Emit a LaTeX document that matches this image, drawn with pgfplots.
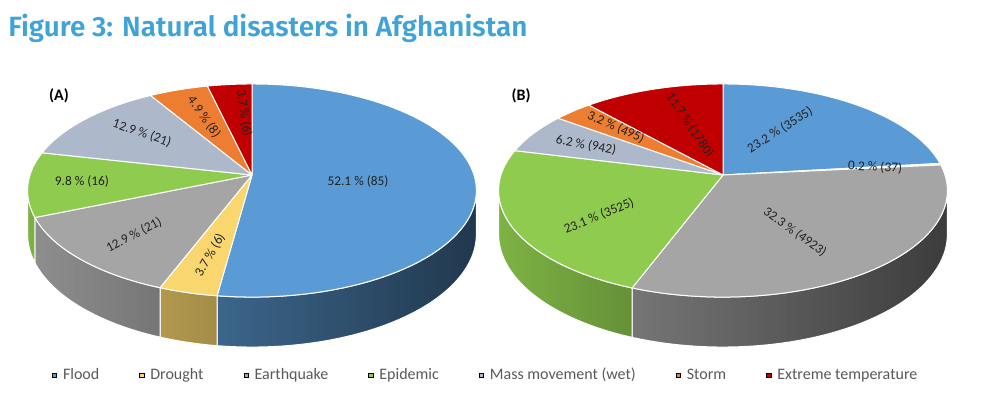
\documentclass[border=0pt]{standalone}
\usepackage{pgfplots}
\pgfplotsset{compat=1.18}
\usepackage{fontspec}
\setmainfont{Carlito}
\newfontfamily\titlefont{Fira Sans SemiBold}
\definecolor{floodc}{HTML}{5B9BD5}
\definecolor{droughtc}{HTML}{FAD66E}
\definecolor{quakec}{HTML}{A5A5A5}
\definecolor{epic}{HTML}{8FCB4E}
\definecolor{massc}{HTML}{ADB9CA}
\definecolor{stormc}{HTML}{ED7D31}
\definecolor{extc}{HTML}{C00000}
\definecolor{titlec}{HTML}{3FA3D8}
\definecolor{legc}{HTML}{595959}
\definecolor{labc}{HTML}{222222}
% pie geometry (pixels): perspective factor, radii, depth
\def\kk{0.1456}
\def\RX{222}
\def\RY{104.3}
\def\HH{42.7}
% data: value/colour, Excel order (clockwise from 12 o'clock)
\def\pieA{85/floodc, 6/droughtc, 21/quakec, 16/epic, 21/massc, 8/stormc, 6/extc}
\def\pieB{3535/floodc, 37/droughtc, 4923/quakec, 3525/epic, 942/massc, 495/stormc, 1780/extc}
\newcommand\pietotal[1]{%
  \xdef\tot{0}%
  \foreach \v/\c in #1 {\pgfmathparse{\tot+\v}\xdef\tot{\pgfmathresult}}}
\newcommand\drawsides[3]{%
  \pietotal{#3}%
  \xdef\cum{0}%
  \foreach \v/\c in #3 {%
    \pgfmathsetmacro\a{90-360*(\cum/\tot)}%
    \pgfmathparse{\cum+\v}\xdef\cum{\pgfmathresult}%
    \pgfmathsetmacro\b{90-360*(\cum/\tot)}%
    \pgfmathsetmacro\lo{max(\b,-171.63)}%
    \pgfmathsetmacro\hi{min(\a,-8.37)}%
    \pgfmathtruncatemacro\vis{\lo<\hi}%
    \ifnum\vis=1
      \pgfmathsetmacro\fl{100*(0.62-0.26*cos(\lo))}%
      \pgfmathsetmacro\fr{100*(0.62-0.26*cos(\hi))}%
      \colorlet{sideL}{\c!\fl!black}%
      \colorlet{sideR}{\c!\fr!black}%
      \path[left color=sideL, right color=sideR, draw=white, line width=0.75pt]
        plot[domain=\lo:\hi, samples=50, variable=\q]
          ({#1+\RX*cos(\q)/(1+\kk*sin(\q))},{#2-\RY*sin(\q)/(1+\kk*sin(\q))})
        -- plot[domain=\hi:\lo, samples=50, variable=\q]
          ({#1+\RX*cos(\q)/(1+\kk*sin(\q))},{#2-\RY*sin(\q)/(1+\kk*sin(\q))+\HH/(1+\kk*sin(\q))})
        -- cycle;
    \fi
  }}
\newcommand\drawtops[3]{%
  \pietotal{#3}%
  \xdef\cum{0}%
  \foreach \v/\c in #3 {%
    \pgfmathsetmacro\a{90-360*(\cum/\tot)}%
    \pgfmathparse{\cum+\v}\xdef\cum{\pgfmathresult}%
    \pgfmathsetmacro\b{90-360*(\cum/\tot)}%
    \filldraw[fill=\c, draw=white, line width=0.75pt, line join=round]
      (#1,#2) -- plot[domain=\b:\a, samples=80, variable=\q]
        ({#1+\RX*cos(\q)/(1+\kk*sin(\q))},{#2-\RY*sin(\q)/(1+\kk*sin(\q))})
      -- cycle;
  }}
\begin{document}
\begin{tikzpicture}
\begin{axis}[
  scale only axis, width=735.75pt, height=303.75pt,
  xmin=0, xmax=981, ymin=0, ymax=405, y dir=reverse,
  hide axis, clip=false,
  legend image code/.code={\fill[#1] (0pt,-1.7pt) rectangle (3.4pt,1.7pt);},
  legend style={draw=none, fill=none, at={(0.494,0.074)}, anchor=center,
    legend columns=-1, text=legc, font=\fontsize{12}{14}\selectfont,
    nodes={inner sep=0pt},
    /tikz/every odd column/.append style={column sep=4.5pt},
    /tikz/every even column/.append style={column sep=30pt}},
]
\pgfplotsextra{%
  \path (0,0) rectangle (981,405);
  \drawsides{252}{175}{\pieA}
  \drawsides{723}{175}{\pieB}
  \drawtops{252}{175}{\pieA}
  \drawtops{723}{175}{\pieB}
}
\addlegendimage{fill=floodc}
\addlegendimage{fill=droughtc}
\addlegendimage{fill=quakec}
\addlegendimage{fill=epic}
\addlegendimage{fill=massc}
\addlegendimage{fill=stormc}
\addlegendimage{fill=extc}
\legend{Flood, Drought, Earthquake, Epidemic, Mass movement (wet), Storm, Extreme temperature}
% title and panel labels
\node[anchor=base west, text=titlec, inner sep=0pt, font={\titlefont\fontsize{20.9}{24}\selectfont}] at (8,36) {Figure 3: Natural disasters in Afghanistan};
\node[font={\bfseries\fontsize{12}{14}\selectfont}] at (59,96) {(A)};
\node[font={\bfseries\fontsize{12}{14}\selectfont}] at (521,96) {(B)};
% data labels
\begin{scope}[every node/.style={text=labc, inner sep=0pt, font=\fontsize{10}{12}\selectfont}]
\node at (358,182) {52.1 \% (85)};
\node[rotate=60] at (210,255) {3.7 \% (6)};
\node[rotate=28] at (134,235) {12.9 \% (21)};
\node at (82,182) {9.8 \% (16)};
\node[rotate=-19] at (142,133) {12.9 \% (21)};
\node[rotate=-55] at (204,117) {4.9 \% (8)};
\node[rotate=-82] at (244,113) {3.7 \% (6)};
\node[rotate=32] at (780,130) {23.2 \% (3535)};
\node[rotate=-3] at (875,167) {0.2 \% (37)};
\node[rotate=-36] at (795,232) {32.3 \% (4923)};
\node[rotate=22] at (599,216) {23.1 \% (3525)};
\node[rotate=-10] at (586,145) {6.2 \% (942)};
\node[rotate=-24] at (616,127) {3.2 \% (495)};
\node[rotate=-56] at (690,125) {11.7 \% (1780)};
\end{scope}
\end{axis}
\end{tikzpicture}
\end{document}
